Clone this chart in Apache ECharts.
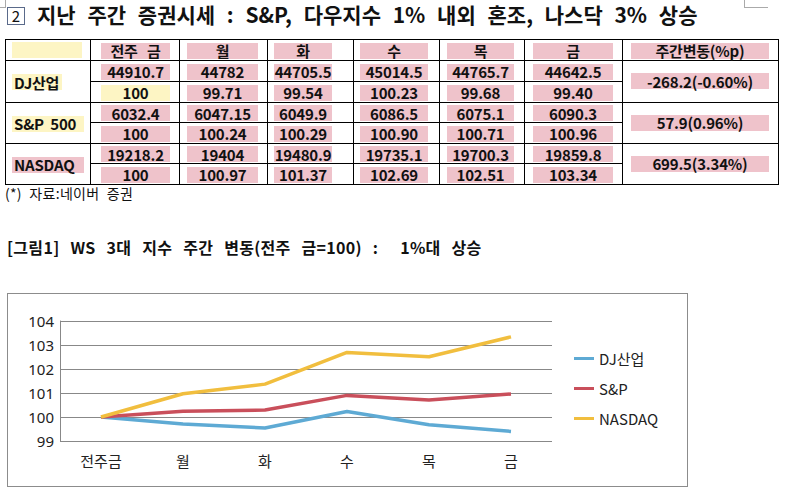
<!DOCTYPE html>
<html><head><meta charset="utf-8">
<script src="https://cdn.jsdelivr.net/npm/echarts@6/dist/echarts.min.js"></script>
<style>
html,body{margin:0;padding:0;background:#fff;width:787px;height:493px;overflow:hidden;font-family:"Noto Sans CJK KR","Noto Sans",sans-serif;color:#111;}
.abs{position:absolute;}
.hl{position:absolute;display:flex;align-items:center;justify-content:center;font-weight:bold;font-size:15px;line-height:15px;white-space:pre;letter-spacing:-0.2px;word-spacing:6px;}
.pink{background:#efc3cb;}
.yel{background:#fdf5c4;}
.ln{position:absolute;background:#000;}
</style>
</head><body>
<div id="page"></div>
<div id="chart" class="abs" style="left:7px;top:293px;width:679px;height:192px;border:1px solid #8c8c8c;"></div>
<script>
// ---- data ----
const categories = ['전주금', '월', '화', '수', '목', '금'];
const headerLabels = ['전주 금', '월', '화', '수', '목', '금', '주간변동(%p)'];
const seriesNames = ['DJ산업', 'S&P', 'NASDAQ'];
const rowLabels = ['DJ산업', 'S&P  500', 'NASDAQ'];
const djClose = [44910.7, 44782, 44705.5, 45014.5, 44765.7, 44642.5];
const spClose = [6032.4, 6047.15, 6049.9, 6086.5, 6075.1, 6090.3];
const nqClose = [19218.2, 19404, 19480.9, 19735.1, 19700.3, 19859.8];
const djIndex = [100, 99.71, 99.54, 100.23, 99.68, 99.40];
const spIndex = [100, 100.24, 100.29, 100.90, 100.71, 100.96];
const nqIndex = [100, 100.97, 101.37, 102.69, 102.51, 103.34];
const weeklyChange = ['-268.2(-0.60%)', '57.9(0.96%)', '699.5(3.34%)'];
const yTicks = [99, 100, 101, 102, 103, 104];
const titleText = '지난 주간 증권시세 : S&P, 다우지수 1% 내외 혼조, 나스닥 3% 상승';
const captionText = '[그림1] WS 3대 지수 주간 변동(전주 금=100) :  1%대 상승';
const sourceText = '(*) 자료:네이버 증권';

// ---- layout ----
const colX = [5, 90, 179, 267, 353, 439, 524, 622, 778];
const rowY = [39, 60, 81, 102, 122, 143, 163, 184];
const hlX = [[12, 82], [101, 170], [187, 258], [274, 332], [360, 428], [447, 514], [533, 613], [631, 769]];
const page = document.getElementById('page');
function add(html){ page.insertAdjacentHTML('beforeend', html); }
function hline(x0, x1, y){ add(`<div class="ln" style="left:${x0}px;top:${y}px;width:${x1-x0+1}px;height:1px"></div>`); }
function vline(x, y0, y1){ add(`<div class="ln" style="left:${x}px;top:${y0}px;width:1px;height:${y1-y0+1}px"></div>`); }
function hl(col, yc, text, cls){
  const [a, b] = hlX[col];
  add(`<div class="hl ${cls}" style="left:${a}px;width:${b-a}px;top:${yc-8}px;height:16px">${text}</div>`);
}
// corner marks
add('<div class="abs" style="left:5px;top:0;width:1px;height:7px;background:#aaa"></div>');
add('<div class="abs" style="left:0;top:7px;width:6px;height:1px;background:#aaa"></div>');
add('<div class="abs" style="left:744px;top:0;width:1px;height:7px;background:#aaa"></div>');
add('<div class="abs" style="left:744px;top:7px;width:24px;height:1px;background:#aaa"></div>');
// title
add('<div class="abs" style="left:7px;top:7px;width:16px;height:16px;border:1px solid #5a6a8a;font-size:15px;line-height:16px;text-align:center;">2</div>');
add(`<div class="abs" style="left:37px;top:1px;font-size:21px;font-weight:bold;line-height:27px;white-space:pre;word-spacing:7px;">${titleText}</div>`);
// table lines
hline(colX[0], colX[8], rowY[0]);
hline(colX[0], colX[8], rowY[1]);
hline(colX[0], colX[8], rowY[3]);
hline(colX[0], colX[8], rowY[5]);
hline(colX[0], colX[8], rowY[7]);
[2, 4, 6].forEach(r => hline(colX[1], colX[7], rowY[r]));
colX.forEach(x => vline(x, rowY[0], rowY[7]));
// header
add(`<div class="abs yel" style="left:${hlX[0][0]}px;width:${hlX[0][1]-hlX[0][0]}px;top:42px;height:16px"></div>`);
headerLabels.forEach((h, i) => hl(i + 1, (rowY[0] + rowY[1]) / 2 + 1, h, 'pink'));
// body
const closes = [djClose, spClose, nqClose];
const idxs = [djIndex, spIndex, nqIndex];
for (let r = 0; r < 3; r++) {
  const top = rowY[1 + 2 * r], mid = rowY[2 + 2 * r], bot = rowY[3 + 2 * r];
  const labelCls = r === 2 ? 'pink' : 'yel';
  const lw = r === 0 ? [12, 60] : [12, 82];
  add(`<div class="hl ${labelCls}" style="left:${lw[0]}px;width:${lw[1]-lw[0]}px;top:${(top+bot)/2-7}px;height:16px;justify-content:flex-start;padding-left:2px;word-spacing:0">${rowLabels[r]}</div>`);
  closes[r].forEach((v, i) => hl(i + 1, (top + mid) / 2 + 1, String(v), 'pink'));
  idxs[r].forEach((v, i) => hl(i + 1, (mid + bot) / 2 + 1, i === 0 ? '100' : v.toFixed(2), (r === 0 && i === 0) ? 'yel' : 'pink'));
  hl(7, (top + bot) / 2, weeklyChange[r], 'pink');
}
add(`<div class="abs" style="left:5px;top:184px;font-size:14px;line-height:18px;white-space:pre;word-spacing:4px;letter-spacing:0.3px">${sourceText}</div>`);
add(`<div class="abs" style="left:7px;top:237px;font-size:16px;font-weight:bold;line-height:20px;white-space:pre;word-spacing:7px;letter-spacing:0.3px">${captionText}</div>`);

// ---- chart ----
const chart = echarts.init(document.getElementById('chart'), null, {renderer: 'svg'});
const colors = ['#5eaad4', '#c94f5b', '#f1be3e'];
const seriesData = [djIndex, spIndex, nqIndex];
const legendTops = [52, 82, 112];
chart.setOption({
  animation: false,
  textStyle: {fontFamily: '"Noto Sans", "Noto Sans CJK KR", sans-serif'},
  grid: {left: 52, top: 27, width: 492, height: 120},
  xAxis: {
    type: 'category', data: categories, boundaryGap: true,
    axisLine: {show: false}, axisTick: {show: false},
    axisLabel: {fontSize: 15, color: '#222', margin: 12, fontFamily: '"Noto Sans CJK KR", sans-serif'}
  },
  yAxis: {
    type: 'value', min: 99, max: 104, interval: 1,
    axisLine: {show: true, lineStyle: {color: '#888'}},
    axisTick: {show: false},
    splitLine: {lineStyle: {color: '#888', width: 1}},
    axisLabel: {fontSize: 15, color: '#222', margin: 6}
  },
  legend: seriesNames.map((n, i) => ({
    data: [n], left: 561, top: legendTops[i], orient: 'vertical',
    icon: 'rect', itemWidth: 20, itemHeight: 3, itemGap: 6,
    textStyle: {fontSize: 15, color: '#222', fontFamily: '"Noto Sans CJK KR", sans-serif'}
  })),
  series: seriesNames.map((n, i) => ({
    name: n, type: 'line', data: seriesData[i], symbol: 'none',
    lineStyle: {width: 3.5, color: colors[i]}, itemStyle: {color: colors[i]}
  }))
});
</script>
</body></html>
